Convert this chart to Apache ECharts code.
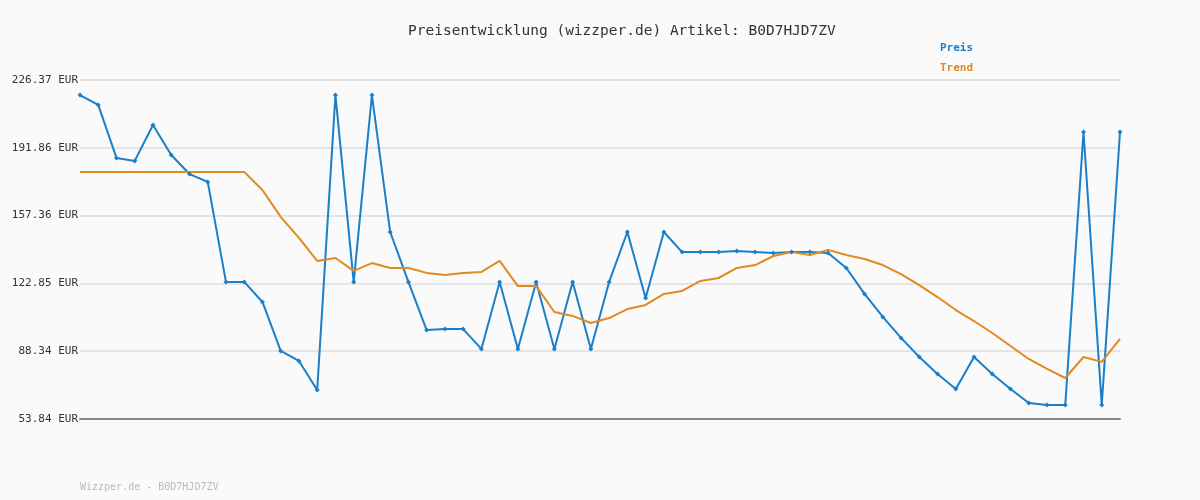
<!DOCTYPE html>
<html><head><meta charset="utf-8">
<script src="https://cdn.jsdelivr.net/npm/echarts@6/dist/echarts.min.js"></script>
<style>html,body{margin:0;background:#fafafa}#c{width:1200px;height:500px}</style>
</head><body><div id="c"></div>
<script>
const yBase = 53.84;
const yStep = 34.506;
const tickLabels = ['53.84 EUR', '88.34 EUR', '122.85 EUR', '157.36 EUR', '191.86 EUR', '226.37 EUR'];
const preis = [218.7,213.7,186.7,185.2,203.5,188.2,178.5,174.5,123.6,123.6,113.4,88.5,83.4,68.6,218.7,123.6,218.7,149.0,123.6,99.1,
  99.6,99.6,89.5,123.6,89.5,123.6,89.5,123.6,89.5,123.6,149.0,115.4,149.0,138.8,138.8,138.8,139.3,138.8,138.3,138.8,
  138.8,138.3,130.7,117.5,105.8,95.1,85.4,76.7,69.1,85.4,76.7,69.1,62.0,61.0,61.0,199.9,61.0,199.9];
const trend = [179.6,179.6,179.6,179.6,179.6,179.6,179.6,179.6,179.6,179.6,170.4,156.7,146.0,134.3,135.8,129.2,133.2,130.7,130.7,128.2,
  127.1,128.2,128.7,134.3,121.5,121.5,108.3,106.3,102.7,105.2,109.8,111.9,117.5,119.0,124.1,125.6,130.7,132.2,136.8,138.8,
  137.3,139.9,137.3,135.3,132.2,127.6,122.0,115.9,109.3,103.7,97.6,91.0,84.4,79.3,74.7,85.4,82.9,94.6];
const cats = preis.map((_, i) => String(i + 1));
const font = 'DejaVu Sans Mono';

const chart = echarts.init(document.getElementById('c'));
chart.setOption({
  backgroundColor: '#fafafa',
  animation: false,
  textStyle: { fontFamily: font },
  title: { text: 'Preisentwicklung (wizzper.de) Artikel: B0D7HJD7ZV', left: 403, top: 19,
    textStyle: { fontFamily: font, fontSize: 14.5, fontWeight: 'normal', color: '#333' } },
  graphic: [{ type: 'text', left: 80, top: 482, style: { text: 'Wizzper.de - B0D7HJD7ZV', fill: '#bbb', font: '10px "DejaVu Sans Mono"' } }],
  legend: { orient: 'vertical', left: 930, top: 38, itemGap: 9, itemWidth: 0, itemHeight: 0, icon: 'none',
    data: ['Preis', 'Trend'],
    formatter: n => '{' + n + '|' + n + '}',
    textStyle: { rich: { Preis: { color: '#1a7fc8', fontWeight: 'bold', fontFamily: font, fontSize: 11 },
                         Trend: { color: '#e08a20', fontWeight: 'bold', fontFamily: font, fontSize: 11 } } } },
  grid: { left: 80, right: 80, top: 80, bottom: 81 },
  xAxis: { type: 'category', data: cats, boundaryGap: false,
    axisLine: { lineStyle: { color: '#888', width: 2 } }, axisTick: { show: false }, axisLabel: { show: false } },
  yAxis: { type: 'value', min: 0, max: yStep * 5, interval: yStep,
    axisLine: { show: false }, axisTick: { show: false },
    axisLabel: { formatter: v => tickLabels[Math.round(v / yStep)], color: '#333', fontSize: 11, margin: 2, fontFamily: font },
    splitLine: { lineStyle: { color: '#e4e4e4', width: 2 } } },
  series: [
    { name: 'Preis', type: 'line', data: preis.map(v => v - yBase), color: '#1a7fc8',
      symbol: 'diamond', symbolSize: 5, lineStyle: { width: 2 } },
    { name: 'Trend', type: 'line', data: trend.map(v => v - yBase), color: '#e08a20',
      symbol: 'none', lineStyle: { width: 2 } }
  ]
});
</script></body></html>
